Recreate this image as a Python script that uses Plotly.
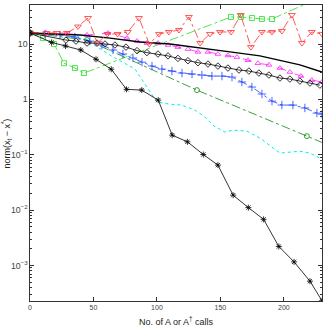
import plotly.graph_objects as go

# ---- data (x = No. of A or A^T calls, y = norm(x_t - x*)) ----
ast_x = [0, 17, 28, 40, 52, 64, 76, 88, 101, 112, 124, 136.5, 148, 160, 172, 184, 196, 208, 220.5, 230]
ast_y = [15.8, 10.7, 9.2, 7.8, 5.3, 3.5, 1.52, 1.47, 0.97, 0.226, 0.171, 0.101, 0.065, 0.0186, 0.0111,
         0.0068, 0.0022, 0.00116, 0.00052, 0.00023]

red_x = [0, 13, 21, 29, 37.8, 45.7, 53, 61, 69, 77, 85.8, 94, 101.6, 109.4, 117.3, 125.2, 134, 141.7,
         149.6, 158.3, 166, 174, 182.7, 190.6, 198.4, 206.3, 214.2, 222, 230]
red_y = [15.8, 15.8, 15.8, 15.8, 20.7, 29.5, 10.4, 15.2, 15.2, 16.5, 29.5, 10.0, 15.2, 16.5, 17.9, 30.8,
         10.4, 15.2, 16.5, 16.5, 33.4, 8.8, 16.5, 16.5, 17.2, 33.4, 10.4, 16.5, 15.2]

mag_x = [0, 12.6, 28.3, 44.9, 61.4, 76.4, 84.3, 92.1, 100.8, 108.7, 116.5, 124.4, 132.3, 140.2, 148,
         155.9, 163, 171.7, 179.5, 188.2, 196.9, 204.7, 213.4, 222, 230]
mag_y = [15.8, 15.8, 15.2, 14.6, 15.8, 12.8, 11.3, 10.4, 10.4, 9.6, 8.8, 8.1, 7.2, 7.2, 6.6, 6.2, 5.8,
         5.1, 4.5, 4.2, 3.68, 3.12, 2.64, 2.23, 2.06]

blk_x = [0, 39.4, 63, 86.6, 110.2, 129.9, 157.5, 181.1, 196.9, 212.6, 230]
blk_y = [15.8, 14.6, 12.8, 10.9, 10.0, 8.8, 7.2, 6.1, 5.1, 4.2, 3.12]

dia_x = [0, 28.3, 36.2, 44.9, 52.8, 59.1, 66.9, 75.6, 84.3, 92.1, 100.8, 108.7, 116.5, 124.4, 132.3,
         140.2, 148, 155.9, 164.6, 172.4, 180.3, 188.2, 196.9, 204.7, 212.6, 220.5, 228.3]
dia_y = [15.8, 11.8, 11.3, 10.4, 10.4, 10.0, 9.6, 8.8, 7.6, 7.0, 6.6, 6.1, 5.5, 5.0, 4.6, 4.35, 4.0,
         3.68, 3.39, 3.25, 2.99, 2.75, 2.43, 2.33, 2.14, 1.97, 1.81]

blu_x = [0, 11.8, 23.6, 35.4, 47.2, 56.7, 65.4, 73.2, 81.1, 88.2, 96.1, 103.9, 111.8, 119.7, 127.6,
         135.4, 143.3, 151.2, 159.1, 166.9, 174.8, 182.7, 190.6, 198.4, 207.1, 216.5, 226, 230]
blu_y = [15.8, 15.2, 14.6, 13.4, 11.3, 9.6, 7.8, 6.6, 5.6, 4.7, 4.0, 3.53, 3.25, 2.99, 2.87, 2.75,
         2.64, 2.64, 2.53, 2.06, 1.67, 1.25, 0.93, 0.79, 0.79, 0.70, 0.565, 0.54]

cyn_x = [0, 23.6, 43.3, 63, 82.7, 100, 110.2, 119.7, 129.9, 137.8, 144.1, 153.5, 159.8, 170.9, 181.1,
         196.9, 212.6, 220.5, 230]
cyn_y = [15.8, 14.6, 12.3, 6.3, 3.53, 0.89, 0.82, 0.79, 0.64, 0.48, 0.343, 0.256, 0.279, 0.267, 0.20,
         0.107, 0.116, 0.107, 0.083]

dgr_x = [0, 44.9, 131.5, 218.1, 304.7]
dgr_y = [15.8, 11.8, 1.47, 0.217, 0.032]

lgr_x = [0, 10.2, 18.9, 26.8, 35.4, 42.5, 158.3, 166.1, 174.8, 182.7, 190.6, 230]
lgr_y = [15.8, 12.8, 10.0, 4.5, 3.68, 2.99, 30.8, 30.8, 29.5, 28.3, 28.3, 72]

x_ticks = [0, 50, 100, 150, 200]

fig = go.Figure()

def add(x, y, color, dash, width, symbol=None, msize=5):
    fig.add_trace(go.Scatter(
        x=x, y=y, mode="lines+markers" if symbol else "lines",
        line=dict(color=color, dash=dash, width=width),
        marker=dict(symbol=symbol, size=msize, color=color, line=dict(color=color, width=0.8)) if symbol else None,
        cliponaxis=True, showlegend=False))

add(lgr_x, lgr_y, "#22e022", "dashdot", 0.8, "square-open", 5)
add(dgr_x, dgr_y, "#0a8a0a", "dashdot", 0.8, "circle-open", 5)
add(cyn_x, cyn_y, "#00eeee", "dot", 1.0)
add(blu_x, blu_y, "#2040ff", "dashdot", 0.8, "cross-thin-open", 6)
add(mag_x, mag_y, "#ff22ff", "dash", 0.8, "triangle-up-open", 5)
add(blk_x, blk_y, "#000000", "solid", 1.4)
add(dia_x, dia_y, "#000000", "solid", 0.8, "diamond-open", 5)
add(red_x, red_y, "#ff3030", "dashdot", 0.8, "triangle-down-open", 6)
add(ast_x, ast_y, "#000000", "solid", 0.8, "asterisk-open", 5)

axis_common = dict(showline=True, linecolor="#333333", linewidth=1, mirror="ticks",
                   ticks="inside", tickcolor="#333333", showgrid=False, zeroline=False,
                   automargin=False,
                   tickfont=dict(size=7, color="#444444", family="Liberation Sans"))

fig.update_xaxes(range=[0, 230], tickvals=x_ticks, ticklen=4, **axis_common)
fig.update_yaxes(type="log", range=[-3.642, 1.705], dtick=1, exponentformat="power", ticklen=4,
                 minor=dict(ticks="inside", ticklen=2, tickcolor="#333333", showgrid=False),
                 **axis_common)

fig.add_annotation(text="No. of A or A<sup>\u2020</sup> calls", xref="paper", yref="paper",
                   x=0.5, y=0, yshift=-12, xanchor="center", yanchor="top", showarrow=False,
                   font=dict(size=9, color="#222222", family="Liberation Sans"))
fig.add_annotation(text="norm(x<sub>t</sub> \u2212 x<sup>*</sup>)", xref="paper", yref="paper",
                   x=0, y=0.53, xshift=-15, textangle=-90, xanchor="right", yanchor="middle",
                   showarrow=False,
                   font=dict(size=9, color="#222222", family="Liberation Sans"))

fig.update_layout(width=327, height=327, margin=dict(l=30, r=5, t=5, b=26),
                  plot_bgcolor="white", paper_bgcolor="white")

fig.write_html("out.html", config={"displayModeBar": False},
               post_script="document.body.style.margin='0';document.body.style.overflow='hidden';")
